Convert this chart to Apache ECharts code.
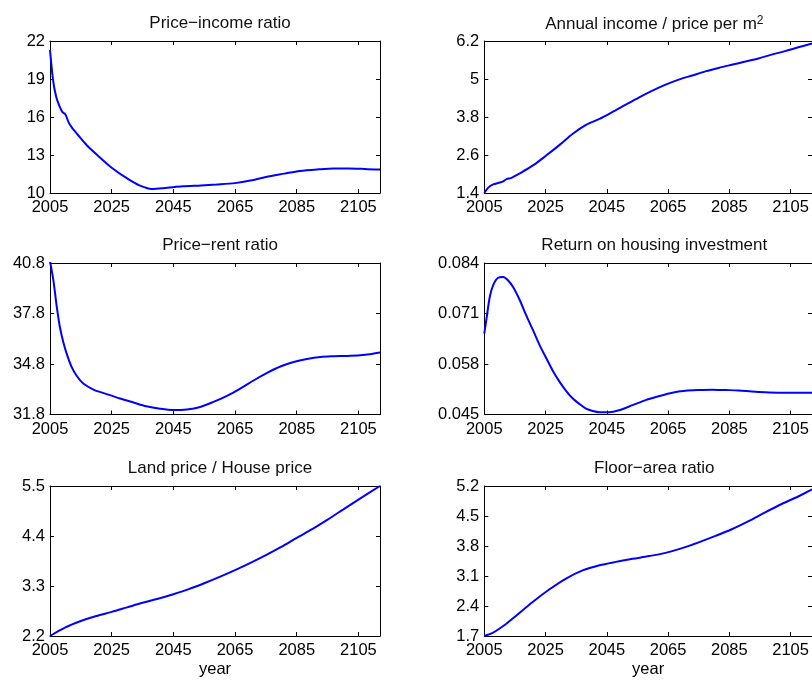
<!DOCTYPE html>
<html>
<head>
<meta charset="utf-8">
<title>Housing market projections</title>
<script src="https://cdn.jsdelivr.net/npm/echarts@6/dist/echarts.min.js"></script>
<style>
  html, body { margin: 0; padding: 0; background: #fff; }
  #chart { width: 812px; height: 680px; }
</style>
</head>
<body>
<div id="chart"></div>
<script>
// Year ticks shared by every panel
const yearTicks = [2005, 2025, 2045, 2065, 2085, 2105];
const yearMin = 2005;
const yearMax = 2112;

// Price-income ratio
const priceIncomeYears  = [2005, 2006, 2007, 2008, 2009, 2010, 2011, 2012, 2014, 2017, 2021, 2025, 2030, 2034, 2038, 2043, 2048, 2054, 2059, 2065, 2070, 2075, 2081, 2086, 2092, 2097, 2102, 2108, 2112];
const priceIncomeValues = [21.3, 18.9, 17.6, 16.9, 16.4, 16.2, 15.6, 15.2, 14.6, 13.75, 12.85, 12.0, 11.15, 10.6, 10.32, 10.42, 10.53, 10.6, 10.67, 10.78, 10.98, 11.27, 11.53, 11.74, 11.87, 11.94, 11.94, 11.88, 11.86];
const priceIncomeTicks  = [10, 13, 16, 19, 22];

// Annual income / price per m2
const incomePriceYears  = [2005, 2006.3, 2007.9, 2010.1, 2011.2, 2012.3, 2013.9, 2016.6, 2020.9, 2025.3, 2029.6, 2033.9, 2038.2, 2042.6, 2046.9, 2051.2, 2055.6, 2059.9, 2064.2, 2068.5, 2072.9, 2077.2, 2081.5, 2085.8, 2090.2, 2094.5, 2098.8, 2103.2, 2107.5, 2112];
const incomePriceValues = [1.40, 1.57, 1.67, 1.73, 1.77, 1.84, 1.88, 2.02, 2.27, 2.59, 2.92, 3.27, 3.55, 3.74, 3.96, 4.19, 4.42, 4.63, 4.82, 4.98, 5.11, 5.24, 5.35, 5.45, 5.55, 5.65, 5.77, 5.88, 6.0, 6.12];
const incomePriceTicks  = [1.4, 2.6, 3.8, 5, 6.2];

// Price-rent ratio
const priceRentYears  = [2005, 2006.1, 2007.2, 2008.2, 2009.3, 2010.4, 2012, 2013.7, 2015.8, 2019.1, 2023.4, 2027.7, 2032.1, 2036.2, 2040.7, 2045, 2049.4, 2053.7, 2058, 2062.4, 2066.7, 2071, 2075.4, 2079.7, 2084, 2088.3, 2092.7, 2097, 2101.3, 2105.6, 2108.7, 2112];
const priceRentValues = [40.9, 39.77, 38.19, 37.0, 36.11, 35.42, 34.63, 34.09, 33.64, 33.28, 33.01, 32.75, 32.51, 32.29, 32.14, 32.06, 32.1, 32.25, 32.55, 32.91, 33.34, 33.82, 34.27, 34.65, 34.92, 35.1, 35.22, 35.26, 35.28, 35.32, 35.38, 35.48];
const priceRentTicks  = [31.8, 34.8, 37.8, 40.8];

// Return on housing investment
const returnYears  = [2005, 2005.8, 2006.8, 2007.9, 2009.5, 2011.2, 2012.8, 2014.4, 2016.6, 2018.7, 2020.9, 2023.1, 2025.3, 2027.4, 2029.6, 2031.7, 2033.9, 2036.1, 2038.2, 2040.4, 2042.6, 2045.8, 2049, 2053.4, 2057.7, 2062, 2066.4, 2070.7, 2075, 2079.4, 2083.7, 2088, 2092.4, 2096.7, 2101, 2105.4, 2112];
const returnValues = [0.0658, 0.0701, 0.0753, 0.0783, 0.0802, 0.0804, 0.0795, 0.0778, 0.0744, 0.0705, 0.0667, 0.0628, 0.0594, 0.0562, 0.0534, 0.0511, 0.0491, 0.0477, 0.0465, 0.0459, 0.0456, 0.0456, 0.0461, 0.0474, 0.0487, 0.0497, 0.0506, 0.0511, 0.0513, 0.0514, 0.0513, 0.0512, 0.0509, 0.0507, 0.0506, 0.0506, 0.0506];
const returnTicks  = [0.045, 0.058, 0.071, 0.084];

// Land price / House price
const landHouseYears  = [2005, 2010, 2015, 2020, 2025, 2030, 2035, 2040, 2045, 2050, 2055, 2060, 2065, 2070, 2075, 2080, 2085, 2090, 2095, 2100, 2105, 2112];
const landHouseValues = [2.2, 2.39, 2.53, 2.64, 2.73, 2.83, 2.93, 3.02, 3.12, 3.23, 3.36, 3.5, 3.65, 3.81, 3.98, 4.16, 4.36, 4.55, 4.76, 4.98, 5.2, 5.5];
const landHouseTicks  = [2.2, 3.3, 4.4, 5.5];

// Floor-area ratio
const floorAreaYears  = [2005, 2007.9, 2010.1, 2012.3, 2015.5, 2020.9, 2026.3, 2031.7, 2037.1, 2042.6, 2048, 2053.4, 2058.8, 2064.2, 2069.6, 2075, 2080.5, 2085.8, 2091.3, 2096.7, 2102.1, 2107.5, 2112];
const floorAreaValues = [1.7, 1.78, 1.88, 1.99, 2.18, 2.5, 2.79, 3.04, 3.23, 3.35, 3.43, 3.5, 3.565, 3.64, 3.75, 3.885, 4.035, 4.19, 4.38, 4.585, 4.78, 4.955, 5.12];
const floorAreaTicks  = [1.7, 2.4, 3.1, 3.8, 4.5, 5.2];

const FONT = "'Liberation Sans', Arial, Helvetica, sans-serif";
const LINE_BLUE = '#0000ff';
const TICK_FONT = 16.5;
const TITLE_FONT = 17;

const panels = [
  { title: 'Price\u2212income ratio', years: priceIncomeYears, values: priceIncomeValues, ticks: priceIncomeTicks, col: 0, row: 0 },
  { title: '{t|Annual income / price per m}{s|2}', years: incomePriceYears, values: incomePriceValues, ticks: incomePriceTicks, col: 1, row: 0 },
  { title: 'Price\u2212rent ratio', years: priceRentYears, values: priceRentValues, ticks: priceRentTicks, col: 0, row: 1 },
  { title: 'Return on housing investment', years: returnYears, values: returnValues, ticks: returnTicks, col: 1, row: 1 },
  { title: 'Land price / House price', years: landHouseYears, values: landHouseValues, ticks: landHouseTicks, col: 0, row: 2, xName: 'year' },
  { title: 'Floor\u2212area ratio', years: floorAreaYears, values: floorAreaValues, ticks: floorAreaTicks, col: 1, row: 2, xName: 'year' }
];

const colLeft = [50, 484.3];
const plotWidth = 330;
const rowTop = [41, 263, 486];
const rowHeight = [152, 151.5, 150];

const grids = [], xAxes = [], yAxes = [], series = [], titles = [];

panels.forEach((p, i) => {
  const left = colLeft[p.col];
  const top = rowTop[p.row];
  grids.push({ left: left, top: top, width: plotWidth, height: rowHeight[p.row], containLabel: false });

  titles.push({
    text: p.title,
    left: left + plotWidth / 2,
    top: top - 31,
    textAlign: 'center',
    textStyle: {
      fontFamily: FONT, fontSize: TITLE_FONT, fontWeight: 'normal', color: '#111',
      rich: {
        t: { fontFamily: FONT, fontSize: TITLE_FONT, color: '#111' },
        s: { fontFamily: FONT, fontSize: 12, color: '#111', verticalAlign: 'top', padding: [0, 0, 6, 0] }
      }
    }
  });

  const yMin = p.ticks[0];
  const yMax = p.ticks[p.ticks.length - 1];
  const axisLine = { show: true, onZero: false, lineStyle: { color: '#000', width: 1 } };
  const tickStyle = { color: '#000', width: 1 };

  // bottom axis with labels
  xAxes.push({
    type: 'value', gridIndex: i, position: 'bottom', min: yearMin, max: yearMax,
    axisLine: axisLine,
    axisTick: { show: true, inside: true, length: 4, customValues: yearTicks, lineStyle: tickStyle },
    axisLabel: {
      show: true, customValues: yearTicks, color: '#000', fontFamily: FONT, fontSize: TICK_FONT, margin: 6,
      formatter: v => String(v)
    },
    splitLine: { show: false },
    name: p.xName || '', nameLocation: 'middle', nameGap: 25,
    nameTextStyle: { color: '#000', fontFamily: FONT, fontSize: TICK_FONT }
  });
  // top axis: box edge with ticks only
  xAxes.push({
    type: 'value', gridIndex: i, position: 'top', min: yearMin, max: yearMax,
    axisLine: axisLine,
    axisTick: { show: true, inside: true, length: 4, customValues: yearTicks, lineStyle: tickStyle },
    axisLabel: { show: false },
    splitLine: { show: false }
  });
  // left axis with labels
  yAxes.push({
    type: 'value', gridIndex: i, position: 'left', min: yMin, max: yMax,
    axisLine: axisLine,
    axisTick: { show: true, inside: true, length: 4, customValues: p.ticks, lineStyle: tickStyle },
    axisLabel: {
      show: true, customValues: p.ticks, color: '#000', fontFamily: FONT, fontSize: TICK_FONT, margin: 5,
      formatter: v => String(v)
    },
    splitLine: { show: false }
  });
  // right axis: box edge with ticks only
  yAxes.push({
    type: 'value', gridIndex: i, position: 'right', min: yMin, max: yMax,
    axisLine: axisLine,
    axisTick: { show: true, inside: true, length: 4, customValues: p.ticks, lineStyle: tickStyle },
    axisLabel: { show: false },
    splitLine: { show: false }
  });

  series.push({
    type: 'line',
    xAxisIndex: 2 * i,
    yAxisIndex: 2 * i,
    data: p.years.map((y, k) => [y, p.values[k]]),
    showSymbol: false,
    symbol: 'none',
    smooth: 0.3,
    clip: true,
    lineStyle: { color: LINE_BLUE, width: 2 },
    animation: false
  });
});

const chart = echarts.init(document.getElementById('chart'), null, { renderer: 'canvas' });
chart.setOption({
  backgroundColor: '#fff',
  animation: false,
  title: titles,
  grid: grids,
  xAxis: xAxes,
  yAxis: yAxes,
  series: series
});
</script>
</body>
</html>
